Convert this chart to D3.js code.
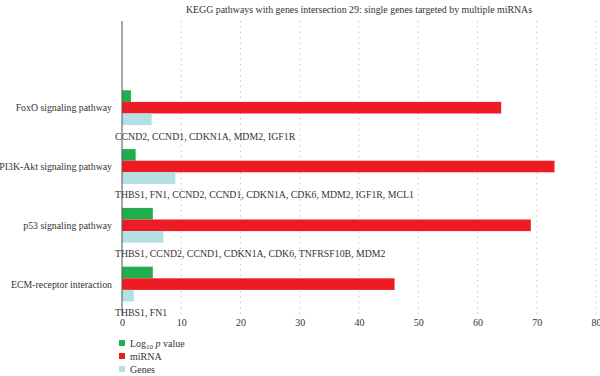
<!DOCTYPE html>
<html><head><meta charset="utf-8">
<script src="https://cdn.jsdelivr.net/npm/d3@7/dist/d3.min.js"></script>
<style>body{margin:0;background:#fff}svg{display:block}</style>
</head><body><svg id="c" width="600" height="376"></svg>
<script>
const categories = ["FoxO signaling pathway","PI3K-Akt signaling pathway","p53 signaling pathway","ECM-receptor interaction"];
const log10p = [1.5, 2.3, 5.2, 5.2];
const mirna = [64, 73, 69, 46];
const genes = [5, 9, 7, 2];
const geneLists = [
  "CCND2, CCND1, CDKN1A, MDM2, IGF1R",
  "THBS1, FN1, CCND2, CCND1, CDKN1A, CDK6, MDM2, IGF1R, MCL1",
  "THBS1, CCND2, CCND1, CDKN1A, CDK6, TNFRSF10B, MDM2",
  "THBS1, FN1"
];
const xTicks = [0,10,20,30,40,50,60,70,80];
const title = "KEGG pathways with genes intersection 29: single genes targeted by multiple miRNAs";
const seriesNames = ["Log10 p value","miRNA","Genes"];
const colors = ["#1fae4b","#ed1c24","#b3e0e3"];

const FONT = "Liberation Serif, Times New Roman, serif";
const TXT = "#333";
const svg = d3.select("#c").attr("font-family",FONT);
const x = d3.scaleLinear().domain([0,80]).range([122,596]);
const y = d3.scaleBand().domain(["", ...categories]).range([21,315]);
const barH = 11.6, off = 10.5;

// title
svg.append("text").attr("x",359).attr("y",13).attr("text-anchor","middle")
  .attr("font-size",9.9).attr("fill",TXT).text(title);

// gridlines
svg.append("g").selectAll("line").data(xTicks.slice(1)).join("line")
  .attr("x1",d=>x(d)).attr("x2",d=>x(d)).attr("y1",21).attr("y2",315)
  .attr("stroke","#bbb").attr("stroke-width",1).attr("stroke-dasharray","1.2,4.2");

// x axis labels
const xa = svg.append("g").attr("transform","translate(0,316)")
  .call(d3.axisBottom(x).tickValues(xTicks).tickSize(0).tickPadding(3));
xa.attr("font-family",FONT).attr("font-size",10);
xa.select(".domain").remove();
xa.selectAll("text").attr("fill",TXT);

const series = [log10p, mirna, genes];
series.forEach((vals,si)=>{
  svg.append("g").selectAll("rect").data(vals).join("rect")
    .attr("x",x(0)).attr("y",(d,i)=>y(categories[i])+off+si*barH)
    .attr("width",d=>x(d)-x(0)).attr("height",barH)
    .attr("fill",colors[si]);
});

// category labels
svg.append("g").selectAll("text").data(categories).join("text")
  .attr("x",112).attr("y",d=>y(d)+off+barH*1.5+3.5).attr("text-anchor","end")
  .attr("font-size",9.8).attr("fill",TXT).text(d=>d);

// gene lists
svg.append("g").selectAll("text").data(geneLists).join("text")
  .attr("x",115).attr("y",(d,i)=>y(categories[i])+off+barH*3+14.5)
  .attr("font-size",9.8).attr("fill",TXT).text(d=>d);

// y axis line
svg.append("line").attr("x1",x(0)).attr("x2",x(0)).attr("y1",21).attr("y2",315)
  .attr("stroke","#555").attr("stroke-width",1);

// legend
const lg = svg.append("g");
const ly = [343,356,369];
seriesNames.forEach((n,i)=>{
  lg.append("rect").attr("x",119).attr("y",ly[i]-3).attr("width",6).attr("height",6).attr("fill",colors[i]);
  const t = lg.append("text").attr("x",130).attr("y",ly[i]+3.5).attr("font-size",10).attr("fill",TXT);
  if(i===0){
    t.append("tspan").text("Log");
    t.append("tspan").attr("dy",2.5).attr("font-size",7).text("10");
    t.append("tspan").attr("dy",-2.5).text(" ");
    t.append("tspan").attr("font-style","italic").text("p");
    t.append("tspan").text(" value");
  } else t.text(n);
});
</script></body></html>
